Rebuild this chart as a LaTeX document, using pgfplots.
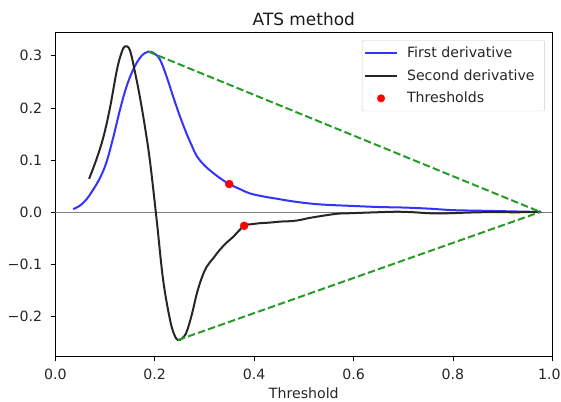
\documentclass[border=0pt]{standalone}
\usepackage{fontspec}
\setmainfont{DejaVu Sans}
\usepackage{pgfplots}
\pgfplotsset{compat=1.18}
\definecolor{bluel}{HTML}{3333FF}
\definecolor{blackl}{HTML}{262626}
\definecolor{greenl}{HTML}{289A28}
\begin{document}
\begin{tikzpicture}
\useasboundingbox (0,0) rectangle (561bp,402bp);
\begin{axis}[
  at={(55.3bp,45.3bp)}, anchor=south west,
  scale only axis,
  width=497bp, height=324.4bp,
  xmin=0, xmax=1, ymin=-0.277, ymax=0.345,
  xtick={0,0.2,0.4,0.6,0.8,1.0},
  xticklabels={0.0,0.2,0.4,0.6,0.8,\hspace*{-6bp}1.0},
  ytick={-0.2,-0.1,0,0.1,0.2,0.3},
  yticklabels={−0.2,−0.1,0.0,0.1,0.2,0.3},
  tick align=outside, xtick pos=bottom, ytick pos=left,
  major tick length=4.7bp,
  every tick/.style={black, line width=0.8bp},
  axis line style={black, line width=0.8bp},
  tick label style={font=\fontsize{14.2}{15}\selectfont, text=black!85},
  xticklabel style={yshift=-4bp},
  yticklabel style={xshift=-5bp},
  xlabel={Threshold},
  xlabel style={font=\fontsize{14.2}{15}\selectfont, text=black!85, yshift=-1.5bp},
  title={ATS method},
  title style={font=\fontsize{17}{18}\selectfont, text=black!90, yshift=-3bp},
  legend cell align=left,
  legend style={at={(0.985,0.976)}, anchor=north east, draw=black!20,
    rounded corners=2bp, font=\fontsize{14.2}{15}\selectfont, text=black!85,
    row sep=6.5bp, inner xsep=2.2bp, inner ysep=4.5bp,
    nodes={inner xsep=2.5bp}},
  legend image code/.code={\draw[#1, line width=2bp] (0bp,0bp) -- (31.6bp,0bp);},
]
\addplot[gray, line width=0.8bp, forget plot] coordinates {(0,0) (1,0)};
\addplot[bluel, line width=2bp, smooth, tension=0.6] coordinates {
(0.036,0.006) (0.050,0.013) (0.063,0.025) (0.076,0.043) (0.090,0.066) (0.103,0.096)
(0.117,0.145) (0.130,0.196) (0.143,0.240) (0.157,0.274) (0.172,0.298) (0.187,0.308)
(0.200,0.304) (0.211,0.292) (0.224,0.260) (0.237,0.222) (0.250,0.186) (0.264,0.151)
(0.275,0.127) (0.285,0.107) (0.300,0.090) (0.318,0.075) (0.335,0.063) (0.350,0.054)
(0.370,0.045) (0.392,0.036) (0.420,0.030) (0.445,0.026) (0.470,0.022) (0.492,0.019)
(0.520,0.016) (0.550,0.014) (0.600,0.012) (0.650,0.010) (0.700,0.009) (0.750,0.007)
(0.800,0.004) (0.850,0.003) (0.900,0.002) (0.950,0.001) (0.978,0.0005)};
\addlegendentry{\hspace*{6.7bp}First derivative\hspace*{5.3bp}}
\addplot[blackl, line width=2bp, smooth, tension=0.6] coordinates {
(0.068,0.064) (0.083,0.102) (0.097,0.145) (0.110,0.200) (0.124,0.273) (0.133,0.305)
(0.140,0.318) (0.150,0.311) (0.160,0.270) (0.170,0.222) (0.181,0.160) (0.191,0.094)
(0.204,-0.015) (0.217,-0.130) (0.231,-0.207) (0.240,-0.236) (0.247,-0.245)
(0.255,-0.242) (0.264,-0.230) (0.275,-0.195) (0.285,-0.155) (0.295,-0.125)
(0.305,-0.104) (0.318,-0.088) (0.331,-0.072) (0.345,-0.058) (0.358,-0.047)
(0.380,-0.026) (0.395,-0.023) (0.412,-0.021) (0.430,-0.020) (0.452,-0.018)
(0.475,-0.017) (0.492,-0.015) (0.506,-0.012) (0.530,-0.008) (0.566,-0.003)
(0.590,-0.002) (0.619,-0.001) (0.650,0.000) (0.687,0.001) (0.720,0.000)
(0.754,-0.002) (0.790,-0.002) (0.820,-0.001) (0.860,0.000) (0.900,0.000)
(0.940,0.000) (0.976,0.001)};
\addlegendentry{\hspace*{6.7bp}Second derivative\hspace*{5.3bp}}
\addplot[only marks, mark=*, mark size=4bp, red, mark options={draw=red, fill=red},
  legend image code/.code={\path[draw=none, fill=none] (0bp,0bp) -- (31.6bp,0bp); \fill[red, draw=none] (15.8bp,0bp) circle (4bp);}] coordinates {
(0.350,0.054) (0.380,-0.026)};
\addlegendentry{\hspace*{6.7bp}Thresholds}
\addplot[greenl, line width=2bp, dash pattern=on 7.4bp off 3.2bp, forget plot] coordinates {
(0.187,0.308) (0.976,0.0005)};
\addplot[greenl, line width=2bp, dash pattern=on 7.4bp off 3.2bp, forget plot] coordinates {
(0.247,-0.245) (0.976,0.0005)};
\end{axis}
\end{tikzpicture}
\end{document}
